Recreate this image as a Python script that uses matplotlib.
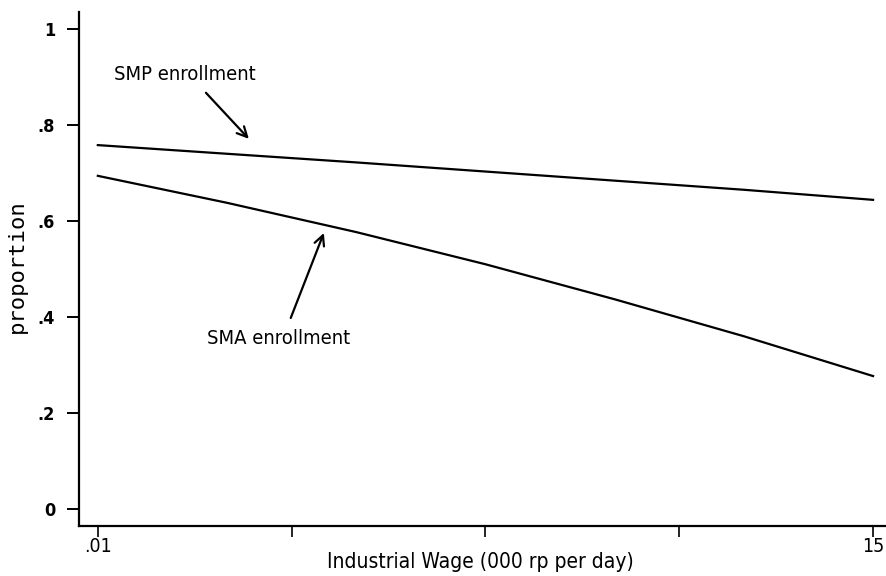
import matplotlib
matplotlib.use("Agg")
import matplotlib.pyplot as plt

plt.rcParams['font.family'] = ['DejaVu Sans']
plt.rcParams['font.stretch'] = 'condensed'

# data
wage = [0.01, 2.5, 5.0, 7.5, 10.0, 12.5, 15.0]
smp = [0.758, 0.740, 0.722, 0.703, 0.684, 0.665, 0.644]
sma = [0.694, 0.638, 0.577, 0.510, 0.437, 0.360, 0.277]

x_ticks = [0.01, 3.76, 7.5, 11.25, 15]
x_ticklabels = ['.01', '', '', '', '15']
y_ticks = [0, 0.2, 0.4, 0.6, 0.8, 1]
y_ticklabels = ['0', '.2', '.4', '.6', '.8', '1']

fig = plt.figure(figsize=(8.86, 5.76), dpi=100)
ax = fig.add_axes([0.089, 0.087, 0.911, 0.892])

ax.plot(wage, smp, color='black', lw=1.6)
ax.plot(wage, sma, color='black', lw=1.6)

ax.set_xlim(-0.357, 15.25)
ax.set_ylim(-0.035, 1.035)

ax.spines['top'].set_visible(False)
ax.spines['right'].set_visible(False)
ax.spines['left'].set_linewidth(1.6)
ax.spines['bottom'].set_linewidth(1.6)

ax.set_xticks(x_ticks)
ax.set_xticklabels(x_ticklabels, fontsize=14)
ax.set_yticks(y_ticks)
ax.set_yticklabels(y_ticklabels, fontsize=13, fontweight='bold')
ax.tick_params(axis='y', direction='out', length=9, width=1.4, pad=8)
ax.tick_params(axis='x', direction='out', length=8, width=1.2, pad=0)

fig.text(480 / 886, 1 - 562 / 576, 'Industrial Wage (000 rp per day)',
         fontsize=15, ha='center', va='center')
fig.text(17 / 886, 1 - 266 / 576, 'proportion', fontsize=16,
         family='DejaVu Sans Mono', rotation=90, ha='center', va='center')

ax.text(1.69, 0.904, 'SMP enrollment', fontsize=14.5, ha='center', va='center')
ax.annotate('', xy=(2.93, 0.771), xytext=(2.10, 0.867),
            arrowprops=dict(arrowstyle='->', color='black', lw=1.6,
                            shrinkA=0, shrinkB=0, mutation_scale=18))
ax.text(3.51, 0.356, 'SMA enrollment', fontsize=14.5, ha='center', va='center')
ax.annotate('', xy=(4.38, 0.575), xytext=(3.74, 0.398),
            arrowprops=dict(arrowstyle='->', color='black', lw=1.6,
                            shrinkA=0, shrinkB=0, mutation_scale=18))

fig.savefig('out.png', dpi=100)
